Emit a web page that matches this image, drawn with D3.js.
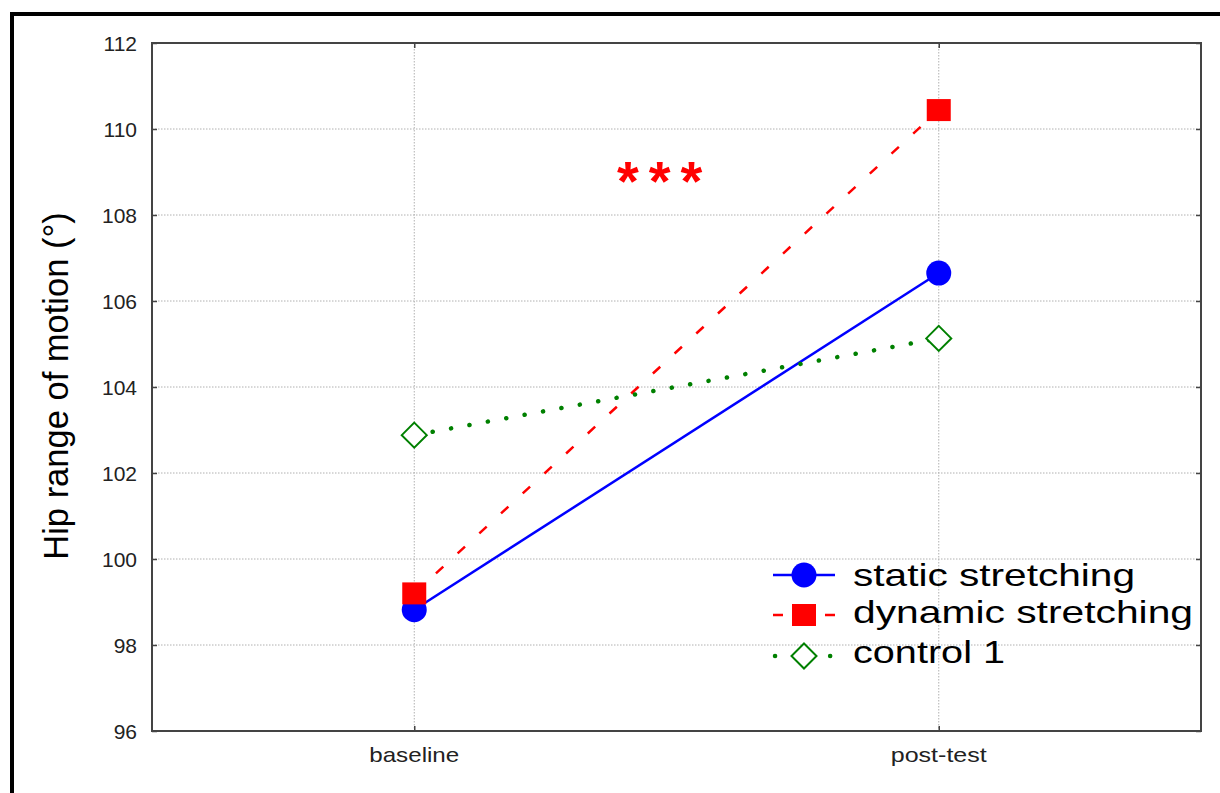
<!DOCTYPE html>
<html>
<head>
<meta charset="utf-8">
<script src="https://cdn.jsdelivr.net/npm/d3@7"></script>
<style>
  html, body { margin: 0; padding: 0; background: #fff; }
  svg { display: block; font-family: "Liberation Sans", Arial, sans-serif; }
</style>
</head>
<body>
<svg id="chart" width="1220" height="793"></svg>
<script>
// ---- data ----
const categories = ["baseline", "post-test"];
const staticStretching = [98.82, 106.65];
const dynamicStretching = [99.2, 110.44];
const control1 = [102.88, 105.13];
const seriesNames = ["static stretching", "dynamic stretching", "control 1"];
const yTicks = [96, 98, 100, 102, 104, 106, 108, 110, 112];
const yLabel = "Hip range of motion (°)";
const significance = "***";

(function () {
// ---- layout ----
const svg = d3.select("#chart");
const L = 152, R = 1201, T = 43, B = 731;

// outer frame
svg.append("rect").attr("x", 12).attr("y", 14).attr("width", 1300).attr("height", 900)
  .attr("fill", "none").attr("stroke", "#000").attr("stroke-width", 4);

const x = d3.scalePoint().domain(categories).range([L, R]).padding(0.5);
const y = d3.scaleLinear().domain([96, 112]).range([B, T]);

// gridlines
const grid = svg.append("g");
grid.selectAll("line.h").data(yTicks.slice(1, -1)).join("line")
  .attr("x1", L).attr("x2", R).attr("y1", d => y(d)).attr("y2", d => y(d))
  .attr("stroke", "#b0b0b0").attr("stroke-width", 1).attr("stroke-dasharray", "1.5,1.5");
grid.selectAll("line.v").data(categories).join("line")
  .attr("x1", d => x(d)).attr("x2", d => x(d)).attr("y1", T).attr("y2", B)
  .attr("stroke", "#b0b0b0").attr("stroke-width", 1).attr("stroke-dasharray", "1.5,1.5");

// axes (inward ticks)
const axisColor = "#444";
const axLeft = svg.append("g").attr("transform", `translate(${L},0)`)
  .call(d3.axisRight(y).tickValues(yTicks).tickSize(5).tickFormat(""));
const axRight = svg.append("g").attr("transform", `translate(${R},0)`)
  .call(d3.axisLeft(y).tickValues(yTicks).tickSize(5).tickFormat(""));
const axBottom = svg.append("g").attr("transform", `translate(0,${B})`)
  .call(d3.axisTop(x).tickSize(5).tickFormat(""));
const axTop = svg.append("g").attr("transform", `translate(0,${T})`)
  .call(d3.axisBottom(x).tickSize(5).tickFormat(""));
[axLeft, axRight, axBottom, axTop].forEach(g => {
  g.select(".domain").remove();
  g.selectAll("line").attr("stroke", axisColor).attr("stroke-width", 1.5);
});
svg.append("rect").attr("x", L).attr("y", T).attr("width", R - L).attr("height", B - T)
  .attr("fill", "none").attr("stroke", axisColor).attr("stroke-width", 2);

// tick labels
svg.append("g").selectAll("text").data(yTicks).join("text")
  .attr("x", 137).attr("y", d => y(d)).attr("dy", "0.36em")
  .attr("text-anchor", "end").attr("font-size", 21).attr("fill", "#222")
  .text(d => d);
const catWidths = { "baseline": 90, "post-test": 96 };
svg.append("g").selectAll("text").data(categories).join("text")
  .attr("x", d => x(d) - catWidths[d] / 2).attr("y", 762)
  .attr("font-size", 21).attr("fill", "#222")
  .attr("textLength", d => catWidths[d]).attr("lengthAdjust", "spacingAndGlyphs")
  .text(d => d);

// y label
svg.append("text").attr("transform", "translate(68,386) rotate(-90)")
  .attr("text-anchor", "middle").attr("font-size", 34.5).attr("fill", "#000")
  .text(yLabel);

// series
const series = [
  { name: seriesNames[0], values: staticStretching, color: "#0000ff", dash: null, width: 2.5, cap: "butt", marker: "circle" },
  { name: seriesNames[1], values: dynamicStretching, color: "#ff0000", dash: "10,19.5", width: 2.5, cap: "butt", marker: "square" },
  { name: seriesNames[2], values: control1, color: "#008000", dash: "0.1,18.6", width: 4.5, cap: "round", marker: "diamond" }
];

function drawMarker(g, type, cx, cy, color) {
  if (type === "circle") {
    g.append("circle").attr("cx", cx).attr("cy", cy).attr("r", 12.5).attr("fill", color);
  } else if (type === "square") {
    g.append("rect").attr("x", cx - 12).attr("y", cy - 11).attr("width", 24).attr("height", 22).attr("fill", color);
  } else {
    const s = 12.5;
    g.append("path").attr("d", `M${cx},${cy - s}L${cx + s},${cy}L${cx},${cy + s}L${cx - s},${cy}Z`)
      .attr("fill", "#fff").attr("stroke", color).attr("stroke-width", 2);
  }
}

const line = d3.line().x((d, i) => x(categories[i])).y(d => y(d));
const plot = svg.append("g");
series.forEach(s => {
  const g = plot.append("g");
  g.append("path").attr("d", line(s.values)).attr("fill", "none")
    .attr("stroke", s.color).attr("stroke-width", s.width)
    .attr("stroke-dasharray", s.dash).attr("stroke-linecap", s.cap);
  s.values.forEach((v, i) => drawMarker(g, s.marker, x(categories[i]), y(v), s.color));
});

// significance
svg.append("text").attr("x", 617).attr("y", 200)
  .attr("font-size", 56).attr("font-weight", "bold").attr("fill", "#ff0000")
  .attr("letter-spacing", 10).text(significance);

// legend
const legRows = [575, 615, 656];
const legBase = [586, 623, 663];
const legWidths = [282, 340, 152];
const leg = svg.append("g");
series.forEach((s, i) => {
  const cy = legRows[i];
  const x1 = s.cap === "round" ? 775 : 773, x2 = 835;
  leg.append("line").attr("x1", x1).attr("x2", x2).attr("y1", cy).attr("y2", cy)
    .attr("stroke", s.color).attr("stroke-width", s.width).attr("stroke-linecap", s.cap)
    .attr("stroke-dasharray", i === 0 ? null : (i === 1 ? "10,42" : "0.1,55"));
  drawMarker(leg, s.marker, 804, cy, s.color);
  leg.append("text").attr("x", 853).attr("y", legBase[i])
    .attr("font-size", 32).attr("fill", "#000")
    .attr("textLength", legWidths[i]).attr("lengthAdjust", "spacingAndGlyphs")
    .text(s.name);
});
})();
</script>
</body>
</html>
